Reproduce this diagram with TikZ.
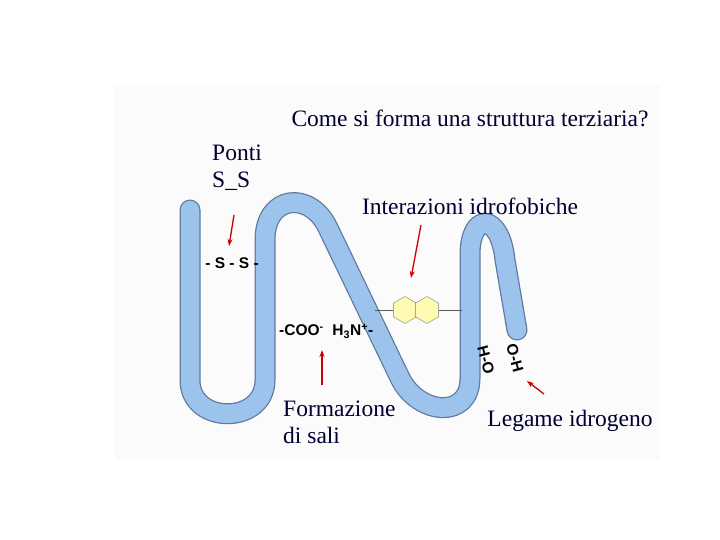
\documentclass[tikz,border=0pt]{standalone}
\usepackage{fontspec}
\setmainfont{Liberation Serif}
\newfontfamily\sansf{Liberation Sans}
\usetikzlibrary{shapes.geometric,arrows.meta}
\definecolor{ribfill}{RGB}{155,195,235}
\definecolor{ribedge}{RGB}{95,120,160}
\tikzset{lbl/.style={font=\fontsize{23.5}{27}\selectfont,text=black!80!blue,inner sep=0pt},
redarrow/.style={-{Stealth[length=7pt,width=5pt]},draw=red!80!black,line width=1.3pt},
chem/.style={font=\sansf\bfseries\fontsize{15.5}{17}\selectfont,inner sep=0pt},
hexa/.style={regular polygon,regular polygon sides=6,shape border rotate=90,minimum size=27pt,draw=gray,fill=yellow!30,inner sep=0pt}}
\begin{document}
\begin{tikzpicture}[x=1pt,y=-1pt]
\useasboundingbox (0,0) rectangle (720,540);
\fill[gray!3] (115,85) rectangle (660,460);
\def\rib{(190,210) -- (190,380) .. controls (190,425) and (265,425) .. (265,380) -- (265,240) .. controls (265,195) and (310,190) .. (328,228) -- (400,378) .. controls (418,415) and (470,420) .. (470,378) -- (470,255) .. controls (470,212) and (500,212) .. (505,260) -- (517,330)}
\draw[line width=21pt,color=ribedge,line cap=round,line join=round] \rib;
\draw[line width=18.5pt,color=ribfill,line cap=round,line join=round] \rib;
\coordinate (hl) at (375,310); \coordinate (hr) at (462,310);
\node[hexa] (h1) at (405,310) {};
\node[hexa] (h2) at (427,310) {};
\draw[gray!70!black] (hl) -- (h1); \draw[gray!70!black] (h2) -- (hr);
\node[chem] (ss) at (232,263) {- S - S -};
\node[chem,anchor=west] (coo) at (279,331) {-COO\textsuperscript{-}\ \ H\textsubscript{3}N\textsuperscript{+}-};
\node[chem,rotate=-75] (oh1) at (486,360) {H-O};
\node[chem,rotate=-75] (oh2) at (515,358) {O-H};
\node[lbl] (title) at (470,118) {Come si forma una struttura terziaria?};
\node[lbl,align=left,anchor=north west] (ponti) at (212,145) {Ponti\\S\_S};
\node[lbl] (idro) at (470,206) {Interazioni idrofobiche};
\node[lbl,align=left,anchor=north west] (sali) at (283,401) {Formazione\\di sali};
\node[lbl] (leg) at (570,421) {Legame idrogeno};
\coordinate (a1) at (234,215); \coordinate (b1) at (229,246);
\coordinate (a2) at (421,225); \coordinate (b2) at (411,278);
\coordinate (a3) at (322,385); \coordinate (b3) at (322,350);
\coordinate (a4) at (544,394); \coordinate (b4) at (527,381);
\draw[redarrow] (a1) -- (b1);
\draw[redarrow] (a2) -- (b2);
\draw[redarrow] (a3) -- (b3);
\draw[redarrow] (a4) -- (b4);
\end{tikzpicture}
\end{document}
